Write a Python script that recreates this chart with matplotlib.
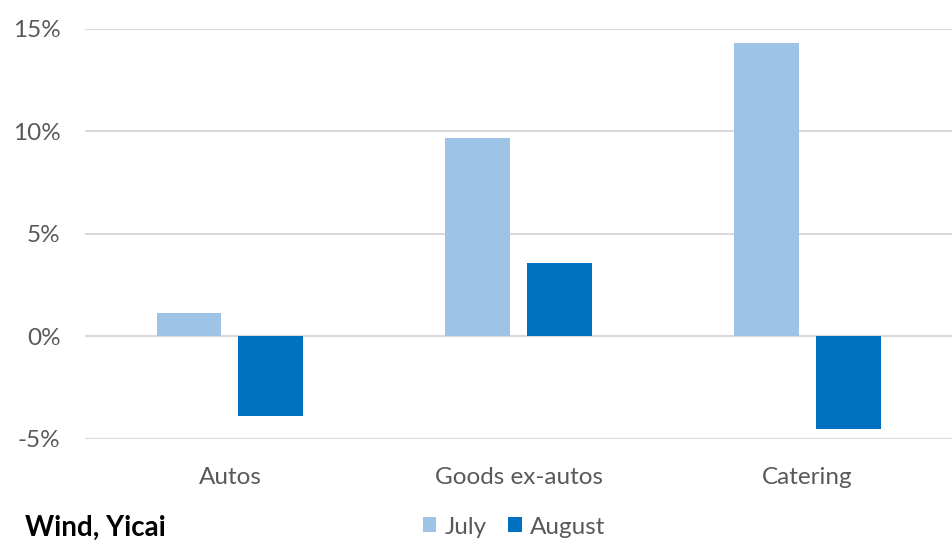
import matplotlib
matplotlib.use("Agg")
import matplotlib.pyplot as plt
import numpy as np
from matplotlib.ticker import FuncFormatter

categories = ["Autos", "Goods ex-autos", "Catering"]
series_names = ["July", "August"]
july = [1.15, 9.7, 14.3]
august = [-3.9, 3.6, -4.5]
yticks = [-5, 0, 5, 10, 15]

plt.rcParams['font.family'] = ['Lato', 'DejaVu Sans']
text_color = "#595959"
fs = 17.5

fig = plt.figure(figsize=(9.52, 5.45), dpi=100)
ax = fig.add_axes([0.0898, 0.1945, 0.9102, 0.7523])

x = np.arange(len(categories))
w = 0.224
off = 0.1416
ax.bar(x - off, july, w, color="#9DC3E6", label=series_names[0], zorder=3)
ax.bar(x + off, august, w, color="#0070C0", label=series_names[1], zorder=3)

ax.set_xlim(-0.5, 2.5)
ax.set_ylim(-5, 15)
ax.set_yticks(yticks)
ax.yaxis.set_major_formatter(FuncFormatter(lambda v, p: f"{v:.0f}%"))
ax.set_xticks(x)
ax.set_xticklabels(categories)
ax.grid(axis="y", color="#D9D9D9", linewidth=1.5, zorder=0)
for s in ax.spines.values():
    s.set_visible(False)
ax.tick_params(axis="both", length=0, labelsize=fs, labelcolor=text_color)
ax.tick_params(axis="y", pad=18)
ax.tick_params(axis="x", pad=20)

fig.text(0.026, 0.0165, "Wind, Yicai", fontsize=20, fontweight="bold", color="#000000", va="baseline")
leg = fig.legend(loc="center", bbox_to_anchor=(0.54, 0.033), ncol=2, frameon=False,
                 fontsize=fs, handlelength=0.57, handleheight=0.57, handletextpad=0.35,
                 columnspacing=0.85, borderpad=0)
for t in leg.get_texts():
    t.set_color(text_color)

fig.savefig("out.png", dpi=100)
